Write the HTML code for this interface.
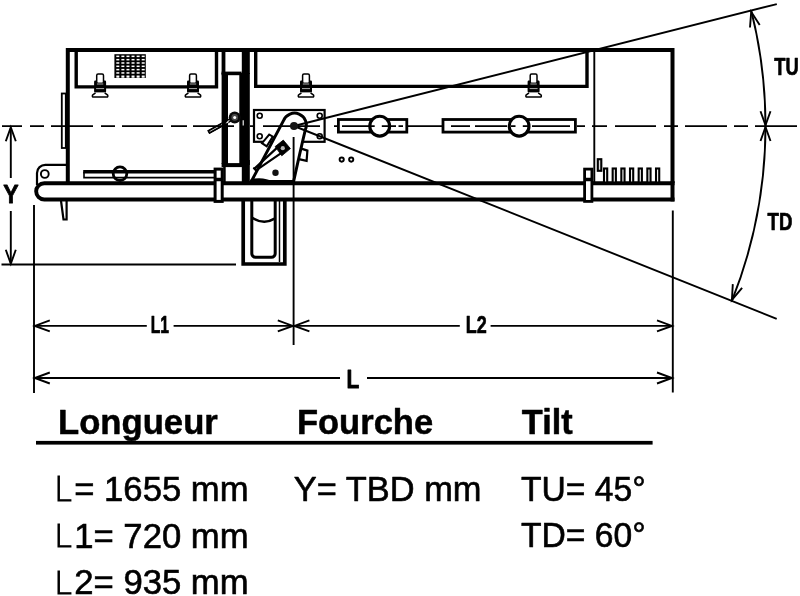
<!DOCTYPE html>
<html lang="fr">
<head>
<meta charset="utf-8">
<title>Dimensions</title>
<style>
html,body{margin:0;padding:0;background:#fff;}
body{width:800px;height:596px;overflow:hidden;font-family:"Liberation Sans",sans-serif;}
svg{display:block;filter:grayscale(1);}
</style>
</head>
<body>
<svg width="800" height="596" viewBox="0 0 800 596">
<rect width="800" height="596" fill="#fff"/>
<g fill="none" stroke="#000" stroke-width="1.9">
<path d="M751.2 10.6A471.5 471.5 0 0 1 765.5 126.0A471.5 471.5 0 0 1 731.9 300.9"/>
<polyline points="759.7,25.1 751.2,11.8 750.0,27.5"/>
<polyline points="760.5,111.2 765.5,125.2 770.5,111.2"/>
<polyline points="770.5,141.0 765.5,127.0 760.5,141.0"/>
<polyline points="732.8,284.1 731.9,299.9 742.1,287.8"/>
<path d="M34 205V393M293.6 137V345M672.8 210.5V392.5"/>
<path d="M10.8 128V178M10.8 211V263M1.5 264.5H236"/>
<polyline points="15.8,141.2 10.8,127.2 5.8,141.2"/>
<polyline points="5.8,249.8 10.8,263.8 15.8,249.8"/>
<path d="M35 325.9H146.8M173.6 325.9H292.5M294.5 325.9H459.8M490.6 325.9H671.5"/>
<polyline points="49.8,320.4 34.8,325.9 49.8,331.4"/>
<polyline points="277.8,331.4 292.8,325.9 277.8,320.4"/>
<polyline points="309.4,320.4 294.4,325.9 309.4,331.4"/>
<polyline points="657.0,331.4 672.0,325.9 657.0,320.4"/>
<path d="M35 378H340M367 378H671.5"/>
<polyline points="49.8,372.5 34.8,378.0 49.8,383.5"/>
<polyline points="657.0,383.5 672.0,378.0 657.0,372.5"/>
<path d="M594.3 52V183"/>
</g>
<g fill="none" stroke="#000" stroke-width="4" stroke-linejoin="miter">
<path d="M67.8 183V50H672.5V183"/>
<path d="M76.2 52V86.9H216.5V52" stroke-width="3.4"/>
<path d="M255.7 52V86.4H587V52" stroke-width="3.4"/>
</g>
<g fill="#000" stroke="none">
<rect x="221.6" y="50" width="3.8" height="24"/>
<rect x="221.6" y="71.6" width="20" height="3.6"/>
<rect x="221.6" y="73" width="6.4" height="91"/>
<rect x="241.8" y="50" width="8" height="24"/>
<rect x="239.3" y="73" width="10.5" height="92"/>
<rect x="241.8" y="160" width="8" height="23"/>
<rect x="221.6" y="163.1" width="22" height="4"/>
<rect x="223.2" y="163.1" width="2.5" height="20"/>
</g>
<rect x="61.8" y="93.5" width="4" height="54.5" fill="#fff" stroke="#000" stroke-width="1.8"/>
<g fill="none" stroke="#000" stroke-width="2.2">
<path d="M66 164.8H45.5A8.3 8.3 0 0 0 37 173V185"/>
<circle cx="44.8" cy="174" r="3.9" stroke-width="1.9"/>
<path d="M60.9 200L63.5 219.5H66.6V200" fill="#fff" stroke-width="2.2"/>
</g>
<g fill="#fff" stroke="#000" stroke-width="3.9">
<path d="M674.5 183.2H44.3A8.15 8.15 0 0 0 44.3 199.5H674.5" />
<path d="M672.5 181.3V201.4" stroke-width="4"/>
</g>
<g fill="none" stroke="#000">
<path d="M84 171.8V177.6H214" stroke-width="1.6"/>
<path d="M83.2 171.8H214" stroke-width="3.5"/>
<circle cx="120" cy="173.7" r="6.8" stroke-width="2.8"/>
</g>
<g fill="#fff" stroke="#000" stroke-width="3">
<rect x="215.1" y="169.1" width="7.1" height="32.3"/>
<rect x="584.6" y="169.1" width="7.3" height="32.3" stroke-width="2.8"/>
<path d="M215.1 179.5H222.2M584.6 179.5H591.9" stroke-width="3.4"/>
</g>
<g fill="#fff" stroke="#000" stroke-width="1.9">
<rect x="597.8" y="159.2" width="3.5" height="11.6" stroke-width="2.1" fill="#ddd"/>
<rect x="604.00" y="168.5" width="3.2" height="14" stroke-width="2.1"/>
<rect x="612.67" y="168.5" width="3.2" height="14" stroke-width="2.1"/>
<rect x="621.34" y="168.5" width="3.2" height="14" stroke-width="2.1"/>
<rect x="630.01" y="168.5" width="3.2" height="14" stroke-width="2.1"/>
<rect x="638.68" y="168.5" width="3.2" height="14" stroke-width="2.1"/>
<rect x="647.35" y="168.5" width="3.2" height="14" stroke-width="2.1"/>
<rect x="656.02" y="168.5" width="3.2" height="14" stroke-width="2.1"/>
</g>
<g fill="none" stroke="#000">
<path d="M243.2 200V264H284.8V200" stroke-width="3.7"/>
<path d="M251.8 200V253.5A3.7 3.7 0 0 0 255.5 257.2H271.5A3.7 3.7 0 0 0 275.2 253.5V200" stroke-width="3"/>
<path d="M251.8 217.4Q263.5 225.4 275.2 218.4" stroke-width="2.4"/>
<path d="M279.5 200V262" stroke-width="1.5"/>
</g>
<g fill="none" stroke="#000">
<rect x="254" y="110" width="70.6" height="31.8" stroke-width="2.2"/>
<circle cx="259.7" cy="115.7" r="2.5" stroke-width="1.6" fill="#fff"/>
<circle cx="319.7" cy="115.7" r="2.5" stroke-width="1.6" fill="#fff"/>
<circle cx="259.7" cy="136.2" r="2.5" stroke-width="1.6" fill="#fff"/>
<circle cx="319.7" cy="136.2" r="2.5" stroke-width="1.6" fill="#fff"/>
<path d="M269.2 134.5L272.8 136.6L266.7 146.3L262 143.2Z" stroke-width="2" fill="#fff"/>
<path d="M301.4 148.6L307.4 150.6L306.6 160.8L298.9 159.2" stroke-width="2.2" fill="#fff"/>
<path d="M251.3 181.5L283.6 120.4A11.5 11.5 0 0 1 305.4 129.5Q300.5 150 293.6 181.5Z" fill="#fff" stroke-width="3"/>
</g>
<path d="M293.6 137V200" stroke="#000" stroke-width="1.9"/>
<circle cx="275.5" cy="172.8" r="3.2" fill="#111"/>
<path d="M249 184L250.5 179.4Q256 177.7 263 178.4Q270 179.2 277.5 184Z" fill="#000"/>
<path d="M254.4 168.6L276.4 148.4M256 170.4L280.4 153.6M254 168.2L256.4 170.8" fill="none" stroke="#000" stroke-width="2.2" stroke-linecap="round"/>
<path d="M283.3 140.1L290.4 148.6L281.8 155.8L275.1 146.6Z" fill="#000" stroke="#000" stroke-width="0.8" stroke-linejoin="round"/>
<circle cx="282.8" cy="148.2" r="2.1" fill="#b5b5b5"/>
<circle cx="341.7" cy="159.6" r="2.1" fill="#fff" stroke="#000" stroke-width="1.9"/>
<circle cx="351.2" cy="159.6" r="2.1" fill="#fff" stroke="#000" stroke-width="1.9"/>
<clipPath id="lv"><rect x="200" y="100" width="21.8" height="45"/></clipPath>
<g transform="rotate(-29.2 234.7 117.5)">
<rect x="205.2" y="116.4" width="27" height="2.3" fill="none" stroke="#000" stroke-width="1.6"/>
</g>
<g clip-path="url(#lv)"><g transform="rotate(-29.2 234.7 117.5)">
<rect x="205.2" y="116.4" width="27" height="2.3" fill="#fff" stroke="#000" stroke-width="1.6"/>
</g></g>
<path d="M225.6 123.6L228.2 120.6L228.6 122.4Z" fill="#fff"/>
<circle cx="234.7" cy="117.4" r="6" fill="#0a0a0a"/>
<circle cx="234.7" cy="117.4" r="3.3" fill="#4a4a4a"/>
<circle cx="234.7" cy="117.4" r="1.5" fill="#fff"/>
<path d="M243.2 120.2V125.6" stroke="#fff" stroke-width="1.1"/>
<g fill="#fff" stroke="#000" stroke-width="2.8">
<rect x="338.4" y="119.5" width="68.4" height="12.6"/>
<rect x="443" y="119.5" width="132.4" height="12.6"/>
<circle cx="379.7" cy="126.2" r="9.9" stroke-width="3.1"/>
<circle cx="519.1" cy="126.2" r="9.9" stroke-width="3.1"/>
</g>
<g fill="none" stroke="#000" stroke-width="1.9">
<path d="M2 126.2H22 M30 126.2H44 M51 126.2H93 M101 126.2H115 M122 126.2H163 M171 126.2H187 M193 126.2H234 M250 126.2H253.5 M263 126.2H291 M298 126.2H320 M334 126.2H338 M342 126.2H369 M371 126.2H374.7 M381.8 126.2H396 M398.5 126.2H403 M407 126.2H443 M451 126.2H470 M475 126.2H507 M511 126.2H515.5 M522.8 126.2H528 M532 126.2H570 M577 126.2H585 M592 126.2H607 M615 126.2H656 M664 126.2H678 M685 126.2H727 M734 126.2H748 M755 126.2H797" stroke-width="1.7"/>
<path d="M294.0 126.0L776.8 4.1M294.0 126.0L776.7 318.8"/>
</g>
<circle cx="294" cy="126" r="4" fill="#161616"/>
<rect x="114.4" y="54.2" width="31.4" height="23.8" fill="#000"/>
<g fill="#fff">
<rect x="116.30" y="55.60" width="3" height="1.5"/>
<rect x="121.38" y="55.60" width="3" height="1.5"/>
<rect x="126.46" y="55.60" width="3" height="1.5"/>
<rect x="131.54" y="55.60" width="3" height="1.5"/>
<rect x="136.62" y="55.60" width="3" height="1.5"/>
<rect x="141.70" y="55.60" width="3" height="1.5"/>
<rect x="116.30" y="58.92" width="3" height="1.5"/>
<rect x="121.38" y="58.92" width="3" height="1.5"/>
<rect x="126.46" y="58.92" width="3" height="1.5"/>
<rect x="131.54" y="58.92" width="3" height="1.5"/>
<rect x="136.62" y="58.92" width="3" height="1.5"/>
<rect x="141.70" y="58.92" width="3" height="1.5"/>
<rect x="116.30" y="62.24" width="3" height="1.5"/>
<rect x="121.38" y="62.24" width="3" height="1.5"/>
<rect x="126.46" y="62.24" width="3" height="1.5"/>
<rect x="131.54" y="62.24" width="3" height="1.5"/>
<rect x="136.62" y="62.24" width="3" height="1.5"/>
<rect x="141.70" y="62.24" width="3" height="1.5"/>
<rect x="116.30" y="65.56" width="3" height="1.5"/>
<rect x="121.38" y="65.56" width="3" height="1.5"/>
<rect x="126.46" y="65.56" width="3" height="1.5"/>
<rect x="131.54" y="65.56" width="3" height="1.5"/>
<rect x="136.62" y="65.56" width="3" height="1.5"/>
<rect x="141.70" y="65.56" width="3" height="1.5"/>
<rect x="116.30" y="68.88" width="3" height="1.5"/>
<rect x="121.38" y="68.88" width="3" height="1.5"/>
<rect x="126.46" y="68.88" width="3" height="1.5"/>
<rect x="131.54" y="68.88" width="3" height="1.5"/>
<rect x="136.62" y="68.88" width="3" height="1.5"/>
<rect x="141.70" y="68.88" width="3" height="1.5"/>
<rect x="116.30" y="72.20" width="3" height="1.5"/>
<rect x="121.38" y="72.20" width="3" height="1.5"/>
<rect x="126.46" y="72.20" width="3" height="1.5"/>
<rect x="131.54" y="72.20" width="3" height="1.5"/>
<rect x="136.62" y="72.20" width="3" height="1.5"/>
<rect x="141.70" y="72.20" width="3" height="1.5"/>
<rect x="116.30" y="75.52" width="3" height="2.2"/>
<rect x="121.38" y="75.52" width="3" height="2.2"/>
<rect x="126.46" y="75.52" width="3" height="2.2"/>
<rect x="131.54" y="75.52" width="3" height="2.2"/>
<rect x="136.62" y="75.52" width="3" height="2.2"/>
<rect x="141.70" y="75.52" width="3" height="2.2"/>
</g>
<g transform="translate(100.1 0)"><rect x="-3.4" y="74" width="6.8" height="9.4" rx="1.4" fill="#fff" stroke="#000" stroke-width="1.5"/><path d="M-5.2 80.6Q-6 81 -6 82V91.6Q-6 92.4 -5 92.4H5Q6 92.4 6 91.6V82Q6 81 5.2 80.6L3.4 80.6V82.8H-3.4V80.6Z" fill="#000"/><path d="M-3.2 84H3.2M-4 88.6H4" stroke="#aaa" stroke-width="1"/><path d="M-4.6 92.8L-7.6 95.2Q-8.2 97 -6.6 97H6.6Q8.2 97 7.6 95.2L4.6 92.8" fill="#fff" stroke="#000" stroke-width="1.5" stroke-linejoin="round"/></g>
<g transform="translate(193 0)"><rect x="-3.4" y="74" width="6.8" height="9.4" rx="1.4" fill="#fff" stroke="#000" stroke-width="1.5"/><path d="M-5.2 80.6Q-6 81 -6 82V91.6Q-6 92.4 -5 92.4H5Q6 92.4 6 91.6V82Q6 81 5.2 80.6L3.4 80.6V82.8H-3.4V80.6Z" fill="#000"/><path d="M-3.2 84H3.2M-4 88.6H4" stroke="#aaa" stroke-width="1"/><path d="M-4.6 92.8L-7.6 95.2Q-8.2 97 -6.6 97H6.6Q8.2 97 7.6 95.2L4.6 92.8" fill="#fff" stroke="#000" stroke-width="1.5" stroke-linejoin="round"/></g>
<g transform="translate(306 0)"><rect x="-3.4" y="74" width="6.8" height="9.4" rx="1.4" fill="#fff" stroke="#000" stroke-width="1.5"/><path d="M-5.2 80.6Q-6 81 -6 82V91.6Q-6 92.4 -5 92.4H5Q6 92.4 6 91.6V82Q6 81 5.2 80.6L3.4 80.6V82.8H-3.4V80.6Z" fill="#000"/><path d="M-3.2 84H3.2M-4 88.6H4" stroke="#aaa" stroke-width="1"/><path d="M-4.6 92.8L-7.6 95.2Q-8.2 97 -6.6 97H6.6Q8.2 97 7.6 95.2L4.6 92.8" fill="#fff" stroke="#000" stroke-width="1.5" stroke-linejoin="round"/></g>
<g transform="translate(533.6 0)"><rect x="-3.4" y="74" width="6.8" height="9.4" rx="1.4" fill="#fff" stroke="#000" stroke-width="1.5"/><path d="M-5.2 80.6Q-6 81 -6 82V91.6Q-6 92.4 -5 92.4H5Q6 92.4 6 91.6V82Q6 81 5.2 80.6L3.4 80.6V82.8H-3.4V80.6Z" fill="#000"/><path d="M-3.2 84H3.2M-4 88.6H4" stroke="#aaa" stroke-width="1"/><path d="M-4.6 92.8L-7.6 95.2Q-8.2 97 -6.6 97H6.6Q8.2 97 7.6 95.2L4.6 92.8" fill="#fff" stroke="#000" stroke-width="1.5" stroke-linejoin="round"/></g>
<g font-family="'Liberation Sans', sans-serif" fill="#000">
<g font-weight="bold">
<text transform="translate(3.21 203.20) scale(0.8954 1)" font-size="25.73" stroke="#000" stroke-width="0.8" stroke-linejoin="round">Y</text>
<text transform="translate(774.34 75.25) scale(0.7928 1)" font-size="23.11" stroke="#000" stroke-width="0.7" stroke-linejoin="round">TU</text>
<text transform="translate(767.54 229.85) scale(0.7947 1)" font-size="23.40" stroke="#000" stroke-width="0.7" stroke-linejoin="round">TD</text>
<text transform="translate(150.70 333.15) scale(0.6552 1)" font-size="24.06" stroke="#000" stroke-width="0.7" stroke-linejoin="round">L1</text>
<text transform="translate(465.80 333.15) scale(0.7471 1)" font-size="24.06" stroke="#000" stroke-width="0.7" stroke-linejoin="round">L2</text>
<text transform="translate(346.59 387.50) scale(0.8044 1)" font-size="26.16" stroke="#000" stroke-width="0.8" stroke-linejoin="round">L</text>
<text transform="translate(58.03 433.50) scale(1.0044 1)" font-size="34.52" stroke="#000" stroke-width="0.5" stroke-linejoin="round">Longueur</text>
<text transform="translate(296.94 433.50) scale(1.0001 1)" font-size="34.52" stroke="#000" stroke-width="0.5" stroke-linejoin="round">Fourche</text>
<text transform="translate(521.87 433.50) scale(0.9930 1)" font-size="34.52" stroke="#000" stroke-width="0.5" stroke-linejoin="round">Tilt</text>
</g>
<g>
<text transform="translate(54.96 501.40) scale(0.9738 1)" font-size="35.61" stroke="#000" stroke-width="0.6"><tspan dx="-0.98" dy="-0.15" font-size="33.20" stroke-width="0.9" font-family="'DejaVu Sans', 'Liberation Sans', sans-serif" font-weight="200">L</tspan><tspan dx="2.29" dy="0.15">= 1655 mm</tspan></text>
<text transform="translate(54.96 547.50) scale(0.9859 1)" font-size="35.17" stroke="#000" stroke-width="0.6"><tspan dx="-0.97" dy="-0.15" font-size="32.78" stroke-width="0.9" font-family="'DejaVu Sans', 'Liberation Sans', sans-serif" font-weight="200">L</tspan><tspan dx="2.26" dy="0.15">1= 720 mm</tspan></text>
<text transform="translate(54.96 593.80) scale(1.0110 1)" font-size="34.30" stroke="#000" stroke-width="0.6"><tspan dx="-0.94" dy="-0.15" font-size="31.96" stroke-width="0.9" font-family="'DejaVu Sans', 'Liberation Sans', sans-serif" font-weight="200">L</tspan><tspan dx="2.21" dy="0.15">2= 935 mm</tspan></text>
<text transform="translate(293.84 501.10) scale(0.9783 1)" font-size="35.17" stroke="#000" stroke-width="0.6" stroke-linejoin="round">Y= TBD mm</text>
<text transform="translate(520.94 501.20) scale(0.9569 1)" font-size="35.17" stroke="#000" stroke-width="0.6" stroke-linejoin="round">TU= 45°</text>
<text transform="translate(520.94 546.90) scale(0.9569 1)" font-size="35.17" stroke="#000" stroke-width="0.6" stroke-linejoin="round">TD= 60°</text>
</g></g>
<rect x="36" y="440.9" width="616.6" height="3.7" fill="#000"/>
</svg>
</body>
</html>
